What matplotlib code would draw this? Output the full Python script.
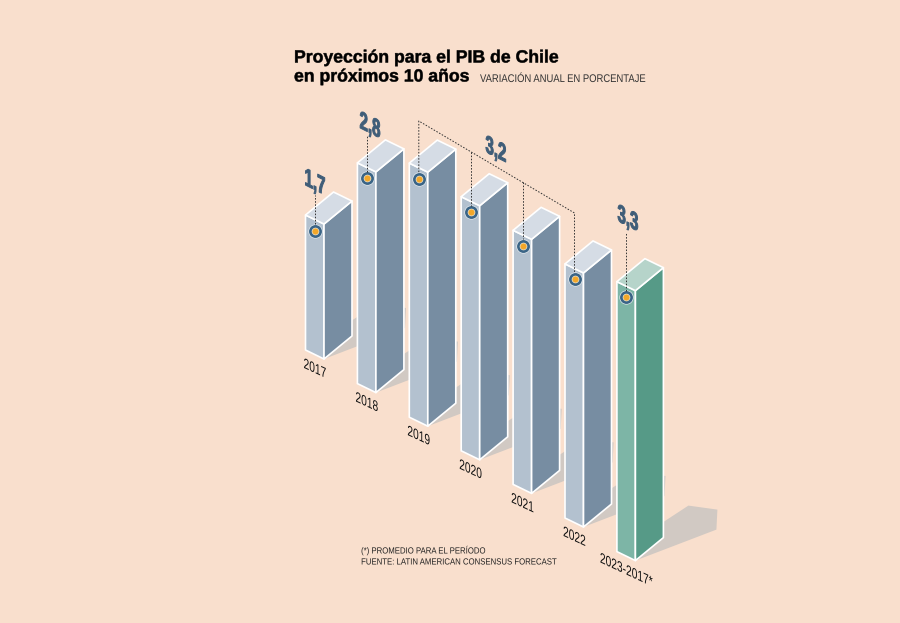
"""
Proyeccion PIB Chile - isometric bars drawn on a pixel-sized axes.
"""
import matplotlib
matplotlib.use("Agg")
import matplotlib.pyplot as plt
from matplotlib.patches import Polygon
from matplotlib.patheffects import AbstractPathEffect
from matplotlib.transforms import Affine2D

years = ["2017", "2018", "2019", "2020", "2021", "2022", "2023-2017*"]
# height of each bar (the last one is drawn a bit above its label)
bar_values = [1.7, 2.78, 3.2, 3.2, 3.2, 3.2, 3.4]
value_labels = ["1,7", "2,8", "3,2", "3,3"]

BG = "#f9dfcd"
SHADOW = "#d1c9c3"
BLUE_FACES = ("#b3c1cf", "#778da2", "#d5dce5")
GREEN_FACES = ("#7db5a6", "#569a87", "#b6d4ca")
FONT = ["Liberation Sans", "DejaVu Sans"]
LABEL_BLUE = "#3f5d78"

# projection of the bars onto the page
X0, Y0 = 305.5, 350
STEP_X, STEP_Y = 51.9, 33.6
PX_PER_UNIT = 79.4
U = (18.5, 9)
V = (28, -23)
MARK_DX, MARK_DY = 9.5, 15.5


class Condense(AbstractPathEffect):
    """Squeeze a text sideways and shear its baseline, no narrow font is installed."""

    def __init__(self, sx=1.0, shear=0, left=False, stroke=0):
        self.sx = sx
        self.shear = shear
        self.left = left
        self.stroke = stroke

    def draw_path(self, renderer, gc, tpath, affine, rgbFace=None):
        ext = tpath.get_extents()
        pivot = ext.x0 if self.left else (ext.x0 + ext.x1) / 2
        tweak = Affine2D().translate(-pivot, 0).scale(self.sx, 1).skew_deg(0, self.shear).translate(pivot, 0)
        gc0 = renderer.new_gc()
        gc0.copy_properties(gc)
        if self.stroke:
            gc0.set_linewidth(self.stroke)
            gc0.set_foreground(rgbFace)
        renderer.draw_path(gc0, tpath, tweak + affine, rgbFace)
        gc0.restore()


def project(i, value=0, u=0, v=0):
    x = X0 + i * STEP_X + u * U[0] + v * V[0]
    y = Y0 + i * STEP_Y + u * U[1] + v * V[1] - value * PX_PER_UNIT
    return x, y


fig = plt.figure(figsize=(9, 6.23), dpi=100, facecolor=BG)
ax = fig.add_axes([0, 0, 1, 1])
ax.set_xlim(0, 900)
ax.set_ylim(623, 0)
ax.axis("off")

# shadows first, they sit behind every bar
for i in range(len(years)):
    fx, fy = project(i, 0, 1, 0)
    rx, ry = project(i, 0, 1, 1)
    shadow = [(fx, fy), (fx + 81, fy - 31), (fx + 82, fy - 51), (rx + 25, ry - 32), (rx - 4, ry - 13)]
    ax.add_patch(Polygon(shadow, closed=True, facecolor=SHADOW, edgecolor="none", zorder=1))

for i, val in enumerate(bar_values):
    left, right, top = GREEN_FACES if i == len(bar_values) - 1 else BLUE_FACES
    z = 2 + i
    style = dict(closed=True, edgecolor="white", linewidth=1.2, joinstyle="round", zorder=z)
    ax.add_patch(Polygon([project(i, 0), project(i, 0, 1), project(i, val, 1), project(i, val)],
                         facecolor=left, **style))
    ax.add_patch(Polygon([project(i, 0, 1), project(i, 0, 1, 1), project(i, val, 1, 1), project(i, val, 1)],
                         facecolor=right, **style))
    ax.add_patch(Polygon([project(i, val), project(i, val, 1), project(i, val, 1, 1), project(i, val, 0, 1)],
                         facecolor=top, **style))

    # marker on the left face
    tx, ty = project(i, val)
    mx, my = tx + MARK_DX, ty + MARK_DY
    ax.scatter([mx], [my], s=104, color="#e8edf0", linewidths=0, zorder=z + 0.1)
    ax.scatter([mx], [my], s=86, color="#3a6486", linewidths=0, zorder=z + 0.2)
    ax.scatter([mx], [my], s=30, color="#e9e4d4", linewidths=0, zorder=z + 0.3)
    ax.scatter([mx], [my], s=20, color="#f2a72a", linewidths=0, zorder=z + 0.4)

    ax.text(tx + 9.5, project(i)[1] + 19, years[i], ha="center", va="center",
            family=FONT, fontsize=10.5, color="#111111", zorder=20,
            path_effects=[Condense(0.7, -25)])

# dotted leaders, they stop at the top of each marker
dots = dict(color="#333333", linewidth=0.7, linestyle=(0, (1.6, 1.6)), zorder=15)
marker_xy = [(project(i, v)[0] + MARK_DX, project(i, v)[1] + MARK_DY - 6.5) for i, v in enumerate(bar_values)]
ax.plot([marker_xy[0][0]] * 2, [marker_xy[0][1], 195], **dots)
ax.plot([marker_xy[1][0]] * 2, [marker_xy[1][1], 136], **dots)
ax.plot([marker_xy[6][0]] * 2, [marker_xy[6][1], 233], **dots)

# bracket over the 2019-2022 group
bx0, bx1 = marker_xy[2][0], marker_xy[5][0]
by0, by1 = 121, 213
ax.plot([bx0, bx0, bx1, bx1], [marker_xy[2][1], by0, by1, marker_xy[5][1]], **dots)
for i in (3, 4):
    mx, my = marker_xy[i]
    ax.plot([mx, mx], [by0 + (mx - bx0) * (by1 - by0) / (bx1 - bx0), my], **dots)

label_style = dict(ha="center", va="center", family=FONT, fontweight="bold", fontsize=18,
                   color=LABEL_BLUE, zorder=20, path_effects=[Condense(0.6, -27, stroke=0.7)])
ax.text(315, 183, value_labels[0], **label_style)
ax.text(370, 126, value_labels[1], **label_style)
ax.text(496, 150, value_labels[2], **label_style)
ax.text(628, 219, value_labels[3], **label_style)

title_effect = [Condense(1.0, 0, left=True, stroke=0.35)]
ax.text(294, 58, "Proyección para el PIB de Chile", family=FONT, fontweight="bold",
        fontsize=12.7, color="black", ha="left", va="center", path_effects=title_effect)
ax.text(294, 77, "en próximos 10 años", family=FONT, fontweight="bold",
        fontsize=12.7, color="black", ha="left", va="center", path_effects=title_effect)
ax.text(480, 79, "VARIACIÓN ANUAL EN PORCENTAJE", family=FONT, fontsize=8,
        color="#333333", ha="left", va="center", path_effects=[Condense(0.85, 0, left=True)])

note_effect = [Condense(0.875, 0, left=True)]
ax.text(361, 550.5, "(*) PROMEDIO PARA EL PERÍODO", family=FONT, fontsize=6.4,
        color="#222222", ha="left", va="center", path_effects=note_effect)
ax.text(361, 562, "FUENTE: LATIN AMERICAN CONSENSUS FORECAST", family=FONT, fontsize=6.4,
        color="#222222", ha="left", va="center", path_effects=note_effect)

fig.savefig("out.png", dpi=100, facecolor=BG)
